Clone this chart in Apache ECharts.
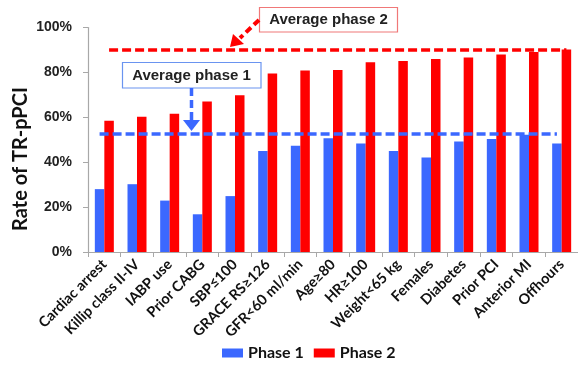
<!DOCTYPE html>
<html><head><meta charset="utf-8">
<script src="https://cdn.jsdelivr.net/npm/echarts@6/dist/echarts.min.js"></script>
<style>html,body{margin:0;padding:0;background:#fff}#c{width:578px;height:366px}</style>
</head><body><div id="c"></div>
<script>
var categories = ['Cardiac arrest','Killip class II-IV','IABP use','Prior CABG','SBP≤100','GRACE RS≥126','GFR<60 ml/min','Age≥80','HR≥100','Weight<65 kg','Females','Diabetes','Prior PCI','Anterior MI','Offhours'];
var phase1 = [28.0, 30.2, 22.9, 16.8, 24.9, 45.0, 47.3, 50.7, 48.3, 45.0, 42.1, 49.2, 50.3, 52.2, 48.3];
var phase2 = [58.5, 60.3, 61.6, 67.0, 69.8, 79.5, 80.8, 81.1, 84.5, 85.1, 86.0, 86.6, 88.0, 89.1, 90.2];
var avgPhase1 = 52.8;
var avgPhase2 = 90.3;
var yTicks = [0, 20, 40, 60, 80, 100];
var yTitle = 'Rate of TR-pPCI';

var chart = echarts.init(document.getElementById('c'));
var calibri = 'Lato, "Open Sans", sans-serif';
var arial = '"Liberation Sans", Arial, sans-serif';
function avgLine(v, color){
  return {
    silent: true, symbol: ['none','none'],
    lineStyle: {color: color, type: [9,4], width: 3.5},
    label: {show: false},
    data: [[{coord: [categories[0], v]}, {coord: [categories[categories.length-1], v]}]]
  };
}
chart.setOption({
  animation: false,
  grid: {left: 88, top: 27.5, width: 493, height: 224.5},
  legend: {
    left: 222, top: 345, padding: 0, itemWidth: 21, itemHeight: 9, itemGap: 10,
    icon: 'rect',
    textStyle: {fontFamily: calibri, fontWeight: 'bold', fontSize: 16, color: '#111'},
    data: ['Phase 1','Phase 2']
  },
  xAxis: {
    type: 'category', data: categories,
    axisLine: {lineStyle: {color: '#a8a8a8', width: 1.2}},
    axisTick: {show: true, length: 5, lineStyle: {color: '#a8a8a8'}},
    axisLabel: {rotate: 45, interval: 0, margin: 10, fontFamily: calibri, fontWeight: 'bold', fontSize: 14.5, color: '#111'}
  },
  yAxis: {
    type: 'value', min: 0, max: 100, interval: 20,
    axisLine: {show: true, lineStyle: {color: '#a8a8a8', width: 1.2}},
    axisTick: {show: true, length: 5, lineStyle: {color: '#a8a8a8'}},
    splitLine: {show: false},
    axisLabel: {margin: 16, fontFamily: arial, fontWeight: 'bold', fontSize: 14, color: '#222',
      formatter: function(v){ return yTicks.indexOf(v) >= 0 ? v + '%' : ''; }}
  },
  series: [
    {name: 'Phase 1', type: 'bar', data: phase1, barWidth: 9.5, barGap: '0%',
     itemStyle: {color: '#3b68ff'}, markLine: avgLine(avgPhase1, '#3b68ff'), z: 3},
    {name: 'Phase 2', type: 'bar', data: phase2, barWidth: 9.5, barGap: '0%',
     itemStyle: {color: '#ff0000'}, markLine: avgLine(avgPhase2, '#ff0000'), z: 3}
  ],
  graphic: [
    {type: 'text', x: 21, y: 159, rotation: Math.PI / 2, style: {text: yTitle, fill: '#111', font: 'bold 20px ' + calibri, align: 'center', verticalAlign: 'middle'}, z: 11},
    {type: 'rect', shape: {x: 259.5, y: 7.5, width: 138, height: 24.5}, style: {fill: '#fff', stroke: '#f07878', lineWidth: 1.2}, z: 10},
    {type: 'text', x: 328.5, y: 20, style: {text: 'Average phase 2', fill: '#222', font: 'bold 15px ' + arial, align: 'center', verticalAlign: 'middle'}, z: 11},
    {type: 'line', shape: {x1: 259, y1: 20, x2: 240, y2: 38}, style: {stroke: '#ff0000', lineWidth: 4, lineDash: [7,4]}, z: 10},
    {type: 'polygon', shape: {points: [[230, 47], [233, 34], [244, 44]]}, style: {fill: '#ff0000'}, z: 10},
    {type: 'rect', shape: {x: 122.5, y: 62.5, width: 138.5, height: 25.5}, style: {fill: '#fff', stroke: '#6a94f0', lineWidth: 1.2}, z: 10},
    {type: 'text', x: 191.5, y: 75.5, style: {text: 'Average phase 1', fill: '#222', font: 'bold 15px ' + arial, align: 'center', verticalAlign: 'middle'}, z: 11},
    {type: 'line', shape: {x1: 191.5, y1: 88, x2: 191.5, y2: 121}, style: {stroke: '#3b68ff', lineWidth: 3.5, lineDash: [8,4]}, z: 10},
    {type: 'polygon', shape: {points: [[183, 120], [200, 120], [191.5, 131]]}, style: {fill: '#3b68ff'}, z: 10}
  ]
});
</script></body></html>
